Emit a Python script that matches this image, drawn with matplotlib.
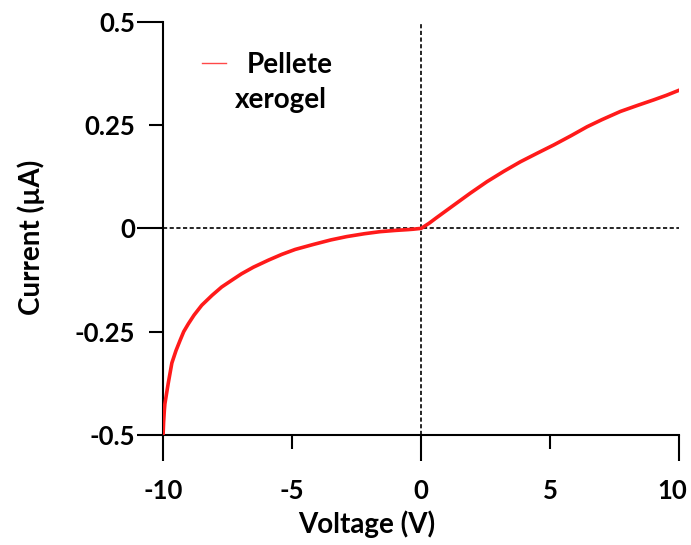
import numpy as np
import matplotlib.pyplot as plt
import matplotlib.transforms as mtransforms
from matplotlib.ticker import FixedLocator

plt.rcParams['font.family'] = ['Lato', 'DejaVu Sans']
plt.rcParams['font.weight'] = 'bold'
plt.rcParams['axes.labelweight'] = 'bold'

# I-V curve
voltage = [-10.0, -9.98, -9.95, -9.93, -9.86, -9.8, -9.66, -9.5, -9.34, -9.2,
           -9.02, -8.8, -8.50, -8.1, -7.73, -7.3, -6.96, -6.5, -5.92, -5.4,
           -4.88, -4.18, -3.5, -2.89, -2.2, -1.59, -1.0, -0.5, -0.30, 0.0,
           0.3, 0.6, 1.26, 1.9, 2.55, 3.2, 3.84, 4.5, 5.14, 5.8,
           6.43, 7.0, 7.72, 8.4, 9.01, 9.5, 9.98]
current = [-0.50, -0.47, -0.44, -0.425, -0.398, -0.375, -0.326, -0.296, -0.271, -0.25,
           -0.231, -0.21, -0.186, -0.162, -0.142, -0.124, -0.110, -0.094, -0.077, -0.063,
           -0.051, -0.039, -0.028, -0.020, -0.013, -0.008, -0.005, -0.003, -0.002, 0.0,
           0.012, 0.026, 0.056, 0.085, 0.113, 0.138, 0.161, 0.182, 0.202, 0.224,
           0.246, 0.263, 0.283, 0.298, 0.311, 0.322, 0.334]

x_major = [-10, 0, 10]
x_minor = [-5, 5]
y_major = [-0.5, 0, 0.5]
y_minor = [-0.25, 0.25]

fig = plt.figure(figsize=(6.91, 5.45), dpi=100)
ax = fig.add_axes([0.236, 0.202, 0.747, 0.758])

ax.axhline(0, color='black', lw=1.2, ls=(0, (2.5, 1.5)), zorder=1)
ax.axvline(0, color='black', lw=1.2, ls=(0, (2.5, 1.5)), zorder=1)
ax.plot(voltage, current, color='#ff1a1a', lw=2.6, label='Pellete', zorder=3)

ax.set_xlim(-10, 10)
ax.set_ylim(-0.5, 0.5)

ax.xaxis.set_major_locator(FixedLocator(x_major))
ax.xaxis.set_minor_locator(FixedLocator(x_minor))
ax.yaxis.set_major_locator(FixedLocator(y_major))
ax.yaxis.set_minor_locator(FixedLocator(y_minor))
ax.set_xticklabels(['-10', '0', '10'])
ax.set_xticklabels(['-5', '5'], minor=True)
ax.set_yticklabels(['-0.5', '0', '0.5'])
ax.set_yticklabels(['-0.25', '0.25'], minor=True)

ax.tick_params(axis='x', which='major', direction='out', length=19, width=1.5, pad=13, labelsize=18.5)
ax.tick_params(axis='x', which='minor', direction='out', length=10, width=1.5, pad=22, labelsize=18.5)
ax.tick_params(axis='y', which='major', direction='out', length=19, width=1.5, pad=1, labelsize=18.5)
ax.tick_params(axis='y', which='minor', direction='out', length=10, width=1.5, pad=10, labelsize=18.5)

# nudge the last x label so it stays inside the figure
last = ax.get_xticklabels()[-1]
last.set_transform(last.get_transform() + mtransforms.ScaledTranslation(-5 / 72, 0, fig.dpi_scale_trans))

for s in ['top', 'right']:
    ax.spines[s].set_visible(False)
for s in ['left', 'bottom']:
    ax.spines[s].set_linewidth(1.5)

ax.set_xlabel('Voltage (V)', fontsize=20)
ax.set_ylabel('Current (µA)', fontsize=20)
ax.xaxis.set_label_coords(0.395, -0.183)
ax.yaxis.set_label_coords(-0.228, 0.479)

leg = ax.legend(loc='upper left', bbox_to_anchor=(0.027, 0.987), frameon=False,
                fontsize=20, handlelength=0.85, handletextpad=0.75)
leg.get_lines()[0].set_linewidth(1.0)
leg.get_lines()[0].set_alpha(0.8)
ax.text(0.229, 0.811, 'xerogel', transform=ax.transAxes, fontsize=20,
        ha='center', va='center')

fig.savefig('out.png', dpi=100)
